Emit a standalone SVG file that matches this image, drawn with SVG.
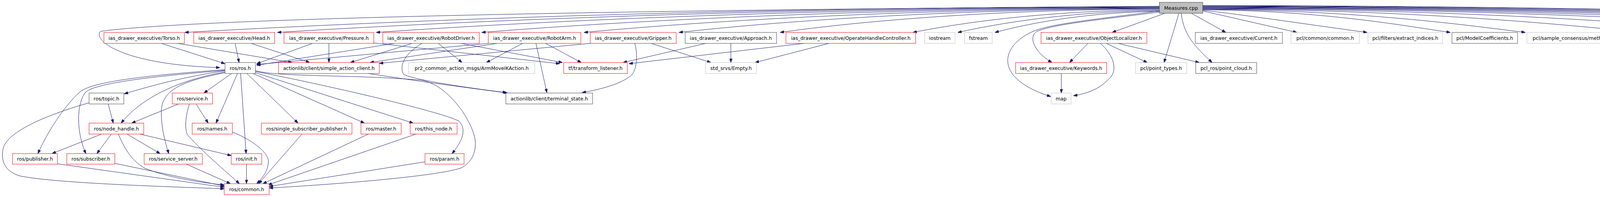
<svg xmlns="http://www.w3.org/2000/svg" width="6087" height="504" viewBox="0 0 6087 504">
<style>
rect{fill:#ffffff;stroke-width:1}
.red rect{stroke:#ff0000}
.blk rect{stroke:#404040}
.gry rect{stroke:#bfbfbf}
.root rect{fill:#bfbfbf;stroke:#404040}
text{font-family:"DejaVu Sans","Liberation Sans",sans-serif;font-size:12.5px;text-anchor:middle;fill:#000000}
#edges path{fill:none;stroke:#191970;stroke-width:1;marker-end:url(#a)}
</style>
<defs>
<marker id="a" markerUnits="userSpaceOnUse" markerWidth="10" markerHeight="7" refX="10" refY="3.5" orient="auto"><path d="M0,0 L10,3.5 L0,7 z" fill="#191970" stroke="#191970"/></marker>
</defs>
<rect x="0" y="0" width="6087" height="504" style="fill:#ffffff;stroke:none"/>
<g id="edges">
<!-- root left -->
<path d="M2968,16 C1500,26 500,48 258,80 C236,98 300,165 563,173"/>
<path d="M2968,17 C1720,19 847,62 473,83"/>
<path d="M2968,18 C1839,20 1049,62 710,83"/>
<path d="M2968,19 C1965,21 1264,62 963,83"/>
<path d="M2968,20 C2100,22 1493,62 1233,83"/>
<path d="M2968,21 C2231,23 1716,62 1495,83"/>
<path d="M2968,22 C2353,24 1923,62 1738,83"/>
<path d="M2968,23 C2482,25 2143,62 1997,83"/>
<path d="M2968,25 C2652,27 2432,64 2337,83"/>
<path d="M2968,27 C2710,30 2529,66 2452,83"/>
<path d="M2968,29 C2758,32 2610,66 2547,83"/>
<path d="M2968,28 C2800,50 2700,60 2650,78 C2560,115 2540,200 2690,247"/>
<path d="M2968,31 C2800,52 2700,62 2655,80 C2630,95 2650,135 2693,160"/>
<path d="M2982,34 L2847,83"/>
<path d="M3018,34 L2980,160"/>
<path d="M3024,34 C3030,90 3060,120 3103,160"/>
<path d="M3050,34 L3138,83"/>
<!-- root right -->
<path d="M3079,28 L3320,83"/>
<path d="M3079,26 C3200,40 3400,70 3500,83"/>
<path d="M3079,25 C3396,27 3618,70 3713,83"/>
<path d="M3079,24 C3492,26 3781,68 3905,83"/>
<path d="M3079,23 C3641,25 4034,66 4203,83"/>
<path d="M3079,22 C3785,24 4278,64 4490,83"/>
<path d="M3079,21 C3931,23 4527,63 4782,83"/>
<path d="M3079,20 C4027,22 4691,62 4975,83"/>
<path d="M3079,19 C4130,21 4865,62 5180,83"/>
<path d="M3079,18 C4219,20 5016,62 5358,83"/>
<path d="M3079,17 C4305,19 5162,62 5530,83"/>
<path d="M3079,16 C4374,18 5280,62 5668,83"/>
<path d="M3079,15 C4474,17 5450,62 5868,83"/>
<path d="M3079,14 C4514,16 5518,62 5948,83"/>
<!-- object localizer -->
<path d="M2785,111 L2738,160"/>
<path d="M2817,111 C2850,140 2860,175 2845,195 C2820,225 2790,238 2748,245"/>
<path d="M2832,111 L2937,160"/>
<path d="M2862,111 L3070,160"/>
<path d="M2717,188 L2717,238"/>
<!-- row1 to row2 -->
<path d="M413,111 L576,163"/>
<path d="M455,111 L748,160"/>
<path d="M602,111 L612,160"/>
<path d="M643,111 L793,160"/>
<path d="M800,111 L657,163"/>
<path d="M842,111 L842,160"/>
<path d="M957,110 L1433,163"/>
<path d="M1010,111 L657,167"/>
<path d="M1055,111 L897,160"/>
<path d="M1122,111 L1183,160"/>
<path d="M1180,111 L1440,160"/>
<path d="M1080,111 C1040,135 1020,165 1033,190 C1060,205 1200,225 1297,237"/>
<path d="M1250,111 L657,165"/>
<path d="M1273,111 L947,160"/>
<path d="M1338,111 L1245,160"/>
<path d="M1372,111 L1400,237"/>
<path d="M1397,111 L1488,160"/>
<path d="M1511,111 L971,162"/>
<path d="M1625,111 C1632,135 1632,175 1617,192 C1590,215 1540,228 1490,237"/>
<path d="M1667,111 L1820,160"/>
<path d="M1807,111 L1595,160"/>
<path d="M1871,111 L1871,160"/>
<path d="M2058,111 L1610,163"/>
<path d="M2122,111 L1933,160"/>
<path d="M943,188 C1050,205 1200,225 1300,238"/>
<!-- ros.h -->
<path d="M576,178 C420,190 240,205 205,235 C165,270 120,340 97,393"/>
<path d="M576,180 C420,193 250,210 220,235 C195,262 195,340 220,393"/>
<path d="M576,181 C450,200 370,225 318,240"/>
<path d="M576,184 C430,210 350,265 310,315"/>
<path d="M576,186 C480,205 415,225 413,283 C412,330 425,370 432,393"/>
<path d="M593,188 L522,238"/>
<path d="M608,188 L553,315"/>
<path d="M616,188 L630,393"/>
<path d="M632,188 L763,315"/>
<path d="M648,188 L933,315"/>
<path d="M654,186 L1058,315"/>
<path d="M654,183 C800,210 1130,285 1175,310 C1195,330 1185,360 1157,393"/>
<path d="M654,181 C720,198 900,190 1077,205 C1150,215 1217,320 1217,367 C1217,400 1200,420 1180,430 C1100,455 800,475 689,481"/>
<!-- lower -->
<path d="M277,266 L290,315"/>
<path d="M228,263 C150,285 20,330 8,380 C0,420 20,440 50,450 C150,470 450,478 574,483"/>
<path d="M457,266 L337,315"/>
<path d="M502,266 L533,315"/>
<path d="M485,266 C475,295 472,330 480,345 C520,390 580,440 613,470"/>
<path d="M260,343 L133,393"/>
<path d="M285,343 L248,393"/>
<path d="M325,343 L410,393"/>
<path d="M358,343 L592,398"/>
<path d="M303,343 C325,395 345,415 370,430 C430,455 520,468 574,473"/>
<path d="M147,419 L574,479"/>
<path d="M294,418 L574,476"/>
<path d="M477,420 L590,470"/>
<path d="M595,338 C640,355 690,390 687,415 C685,440 670,458 657,470"/>
<path d="M631,420 L631,470"/>
<path d="M773,343 L662,470"/>
<path d="M943,343 L673,470"/>
<path d="M1065,343 L686,473"/>
<path d="M1088,414 L689,477"/>
</g>
<g id="n_root" class="root"><rect x="2968" y="6" width="111" height="28"/><text x="3023.5" y="24.5">Measures.cpp</text></g>
<g id="n_torso" class="red"><rect x="266" y="83" width="206" height="28"/><text x="369" y="101.5">ias_drawer_executive/Torso.h</text></g>
<g id="n_head" class="red"><rect x="496" y="83" width="207" height="28"/><text x="599.5" y="101.5">ias_drawer_executive/Head.h</text></g>
<g id="n_pressure" class="red"><rect x="727" y="83" width="230" height="28"/><text x="842" y="101.5">ias_drawer_executive/Pressure.h</text></g>
<g id="n_robotdriver" class="red"><rect x="980" y="83" width="247" height="28"/><text x="1103.5" y="101.5">ias_drawer_executive/RobotDriver.h</text></g>
<g id="n_robotarm" class="red"><rect x="1250" y="83" width="237" height="28"/><text x="1368.5" y="101.5">ias_drawer_executive/RobotArm.h</text></g>
<g id="n_gripper" class="red"><rect x="1511" y="83" width="220" height="28"/><text x="1621" y="101.5">ias_drawer_executive/Gripper.h</text></g>
<g id="n_approach" class="blk"><rect x="1754" y="83" width="234" height="28"/><text x="1871" y="101.5">ias_drawer_executive/Approach.h</text></g>
<g id="n_ohc" class="red"><rect x="2012" y="83" width="332" height="28"/><text x="2178" y="101.5">ias_drawer_executive/OperateHandleController.h</text></g>
<g id="n_iostream" class="gry"><rect x="2367" y="83" width="78" height="28"/><text x="2406" y="101.5">iostream</text></g>
<g id="n_fstream" class="gry"><rect x="2469" y="83" width="71" height="28"/><text x="2504.5" y="101.5">fstream</text></g>
<g id="n_objloc" class="red"><rect x="2665" y="83" width="271" height="28"/><text x="2800.5" y="101.5">ias_drawer_executive/ObjectLocalizer.h</text></g>
<g id="n_current" class="blk"><rect x="3060" y="83" width="223" height="28"/><text x="3171.5" y="101.5">ias_drawer_executive/Current.h</text></g>
<g id="n_common" class="gry"><rect x="3305" y="83" width="175" height="28"/><text x="3392.5" y="101.5">pcl/common/common.h</text></g>
<g id="n_extract" class="gry"><rect x="3502" y="83" width="191" height="28"/><text x="3597.5" y="101.5">pcl/filters/extract_indices.h</text></g>
<g id="n_modelcoef" class="blk"><rect x="3717" y="83" width="168" height="28"/><text x="3801" y="101.5">pcl/ModelCoefficients.h</text></g>
<g id="n_method" class="gry"><rect x="3909" y="83" width="274" height="28"/><text x="4046" y="101.5">pcl/sample_consensus/method_types.h</text></g>
<g id="n_model" class="gry"><rect x="4207" y="83" width="264" height="28"/><text x="4339" y="101.5">pcl/sample_consensus/model_types.h</text></g>
<g id="n_sac" class="gry"><rect x="4496" y="83" width="266" height="28"/><text x="4629" y="101.5">pcl/segmentation/sac_segmentation.h</text></g>
<g id="n_boundary" class="gry"><rect x="4786" y="83" width="171" height="28"/><text x="4871.5" y="101.5">pcl/features/boundary.h</text></g>
<g id="n_normal" class="gry"><rect x="4981" y="83" width="181" height="28"/><text x="5071.5" y="101.5">pcl/features/normal_3d.h</text></g>
<g id="n_conv" class="gry"><rect x="5185" y="83" width="156" height="28"/><text x="5263" y="101.5">pcl/ros/conversions.h</text></g>
<g id="n_transforms" class="blk"><rect x="5364" y="83" width="154" height="28"/><text x="5441" y="101.5">pcl_ros/transforms.h</text></g>
<g id="n_thread" class="gry"><rect x="5536" y="83" width="117" height="28"/><text x="5594.5" y="101.5">boost/thread.hpp</text></g>
<g id="n_marker" class="gry"><rect x="5673" y="83" width="180" height="28"/><text x="5763" y="101.5">visualization_msgs/Marker.h</text></g>
<g id="n_stdio" class="gry"><rect x="5873" y="83" width="58" height="28"/><text x="5902" y="101.5">stdio.h</text></g>
<g id="n_stdarg" class="gry"><rect x="5952" y="83" width="67" height="28"/><text x="5985.5" y="101.5">stdarg.h</text></g>
<g id="n_rosh" class="blk"><rect x="576" y="160" width="78" height="28"/><text x="615" y="178.5">ros/ros.h</text></g>
<g id="n_sacl" class="red"><rect x="713" y="160" width="258" height="28"/><text x="842" y="178.5">actionlib/client/simple_action_client.h</text></g>
<g id="n_armik" class="gry"><rect x="1046" y="160" width="323" height="28"/><text x="1207.5" y="178.5">pr2_common_action_msgs/ArmMoveIKAction.h</text></g>
<g id="n_tf" class="red"><rect x="1443" y="160" width="163" height="28"/><text x="1524.5" y="178.5">tf/transform_listener.h</text></g>
<g id="n_empty" class="gry"><rect x="1806" y="160" width="131" height="28"/><text x="1871.5" y="178.5">std_srvs/Empty.h</text></g>
<g id="n_keywords" class="red"><rect x="2600" y="160" width="233" height="28"/><text x="2716.5" y="178.5">ias_drawer_executive/Keywords.h</text></g>
<g id="n_pointtypes" class="gry"><rect x="2907" y="160" width="131" height="28"/><text x="2972.5" y="178.5">pcl/point_types.h</text></g>
<g id="n_pointcloud" class="blk"><rect x="3061" y="160" width="156" height="28"/><text x="3139" y="178.5">pcl_ros/point_cloud.h</text></g>
<g id="n_topic" class="blk"><rect x="228" y="238" width="89" height="28"/><text x="272.5" y="256.5">ros/topic.h</text></g>
<g id="n_service" class="red"><rect x="441" y="238" width="103" height="28"/><text x="492.5" y="256.5">ros/service.h</text></g>
<g id="n_terminal" class="blk"><rect x="1295" y="238" width="222" height="28"/><text x="1406" y="256.5">actionlib/client/terminal_state.h</text></g>
<g id="n_map" class="gry"><rect x="2691" y="238" width="51" height="28"/><text x="2716.5" y="256.5">map</text></g>
<g id="n_nodehandle" class="red"><rect x="228" y="315" width="140" height="28"/><text x="298" y="333.5">ros/node_handle.h</text></g>
<g id="n_names" class="red"><rect x="492" y="315" width="103" height="28"/><text x="543.5" y="333.5">ros/names.h</text></g>
<g id="n_ssp" class="red"><rect x="669" y="315" width="232" height="28"/><text x="785" y="333.5">ros/single_subscriber_publisher.h</text></g>
<g id="n_master" class="red"><rect x="924" y="315" width="103" height="28"/><text x="975.5" y="333.5">ros/master.h</text></g>
<g id="n_thisnode" class="red"><rect x="1050" y="315" width="120" height="28"/><text x="1110" y="333.5">ros/this_node.h</text></g>
<g id="n_publisher" class="red"><rect x="32" y="393" width="115" height="27"/><text x="89.5" y="411">ros/publisher.h</text></g>
<g id="n_subscriber" class="red"><rect x="171" y="393" width="123" height="27"/><text x="232.5" y="411">ros/subscriber.h</text></g>
<g id="n_sserver" class="red"><rect x="369" y="393" width="149" height="27"/><text x="443.5" y="411">ros/service_server.h</text></g>
<g id="n_init" class="red"><rect x="592" y="393" width="78" height="27"/><text x="631" y="411">ros/init.h</text></g>
<g id="n_param" class="red"><rect x="1088" y="393" width="100" height="27"/><text x="1138" y="411">ros/param.h</text></g>
<g id="n_rcommon" class="red"><rect x="574" y="470" width="115" height="28"/><text x="631.5" y="488.5">ros/common.h</text></g>
</svg>
